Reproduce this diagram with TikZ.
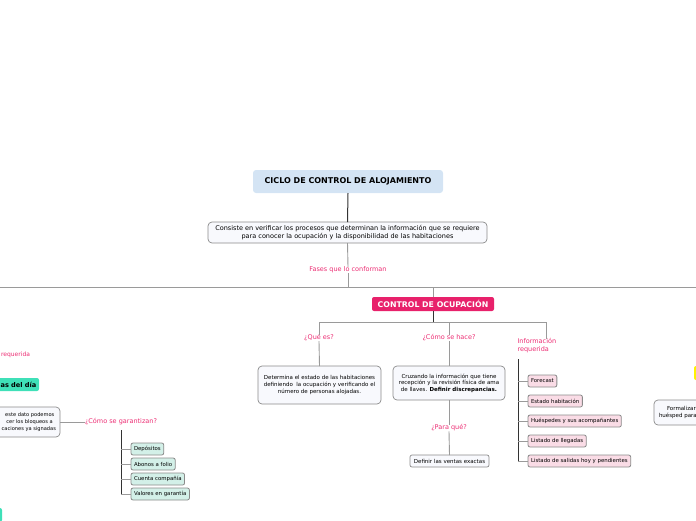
\documentclass[tikz,border=0pt]{standalone}
\usepackage{fontspec}
\setmainfont{DejaVu Sans}
\begin{document}
\definecolor{pinktxt}{HTML}{EC2D73}
\definecolor{pinkbox}{HTML}{E8216B}
\definecolor{titlefill}{HTML}{D4E4F4}
\definecolor{descfill}{HTML}{F8F9FD}
\definecolor{subpink}{HTML}{FADCE6}
\definecolor{subgreen}{HTML}{D3F0E8}
\definecolor{teal}{HTML}{3FE0B8}
\definecolor{linegray}{HTML}{9A9A9A}
\definecolor{bordergray}{HTML}{8A8A8A}
\definecolor{hiyellow}{HTML}{FFF200}
\begin{tikzpicture}[x=1pt,y=-1pt,
  every node/.style={inner sep=0pt, outer sep=0pt},
  descbox/.style={draw=bordergray, line width=0.7pt, fill=descfill, rounded corners=4pt, align=center, font=\fontsize{5.5pt}{6.6pt}\selectfont},
  subbox/.style={draw=bordergray, line width=0.8pt, rounded corners=2pt, anchor=west, minimum height=12pt, inner xsep=3pt, font=\fontsize{5.4pt}{6.4pt}\selectfont},
  pinksub/.style={subbox, fill=subpink},
  greensub/.style={subbox, fill=subgreen},
  qlabel/.style={text=pinktxt, font=\fontsize{6.5pt}{7.8pt}\selectfont},
  conn/.style={draw=linegray, line width=0.9pt},
  darkconn/.style={draw=black!80, line width=1pt}
]
\useasboundingbox (0,0) rectangle (696,520);

% title and description
\node[fill=titlefill, rounded corners=3pt, minimum width=190pt, minimum height=23pt, font=\bfseries\fontsize{8pt}{9.6pt}\selectfont] (title) at (348,181.5) {CICLO DE CONTROL DE ALOJAMIENTO};
\node[descbox, minimum width=279pt, minimum height=21pt, font=\fontsize{6.5pt}{8pt}\selectfont] (desc) at (347.5,232.5) {Consiste en verificar los procesos que determinan la información que se requiere\\para conocer la ocupación y la disponibilidad de las habitaciones};
\node[qlabel] (fases) at (348,270) {Fases que lo conforman};
\coordinate (hl) at (0,287);
\coordinate (hr) at (696,287);
\coordinate (hj) at (348,287);
\coordinate (hc) at (433,287);

\draw[darkconn] (title.south) -- (desc.north);
\draw[conn] (desc.south) -- (fases.north);
\draw[conn] (fases.south) -- (hj);
\draw[conn] (hl) -- (hr);

% control de ocupacion
\node[fill=pinkbox, rounded corners=2pt, minimum width=122pt, minimum height=14pt, text=white, font=\bfseries\fontsize{7.8pt}{9pt}\selectfont] (ctrl) at (433,304) {CONTROL DE OCUPACIÓN};
\draw[conn] (hc) -- (ctrl.north);
\coordinate (cj) at (433,322);
\coordinate (cl) at (319,322);
\coordinate (cm) at (449,322);
\coordinate (cr) at (546,322);
\draw[darkconn] (ctrl.south) -- (cj);
\draw[conn] (cl) -- (cr);

\node[qlabel] (que) at (319,338) {¿Qué es?};
\node[qlabel] (como) at (449,338) {¿Cómo se hace?};
\node[qlabel, anchor=north west, align=left] (info) at (517.5,338.5) {Información\\requerida};
\draw[conn] (cl) -- (que.north);
\draw[conn] (cm) -- (como.north);
\draw[conn] (cr) -- (cr |- info.north);

\node[descbox, minimum width=123pt, minimum height=38pt] (determina) at (319.5,385) {Determina el estado de las habitaciones\\definiendo\ \ la ocupación y verificando el\\número de personas alojadas.};
\draw[conn] (que.south) -- (determina.north);

\node[descbox, minimum width=112pt, minimum height=34pt] (cruzando) at (449,383) {Cruzando la información que tiene\\recepción y la revisión física de ama\\de llaves. \textbf{Definir discrepancias.}};
\draw[conn] (como.south) -- (cruzando.north);
\node[qlabel] (para) at (449,428) {¿Para qué?};
\draw[conn] (cruzando.south) -- (para.north);
\node[descbox, rounded corners=2pt, minimum width=79pt, minimum height=12pt] (ventas) at (449.5,461) {Definir las ventas exactas};
\draw[conn] (para.south) -- (ventas.north);

% informacion requerida list
\coordinate (iv) at (518,359);
\coordinate (ie) at (518,461);
\draw[darkconn] (iv) -- (ie);
\node[pinksub] (forecast) at (528,381) {Forecast};
\node[pinksub] (estado) at (528,401) {Estado habitación};
\node[pinksub] (huesp) at (528,421) {Huéspedes y sus acompañantes};
\node[pinksub] (llegadas) at (528,441) {Listado de llegadas};
\node[pinksub] (salidas) at (528,461) {Listado de salidas hoy y pendientes};
\foreach \n in {forecast,estado,huesp,llegadas,salidas}{
  \draw[conn] (iv |- \n.west) -- (\n.west);
}

% right side, partially visible
\node[fill=hiyellow, rounded corners=2pt, minimum width=30pt, minimum height=14pt] (yel) at (709,373) {};
\node[descbox, minimum width=110pt, minimum height=25pt] (formal) at (709,412.5) {};
\node[anchor=west, align=left, font=\fontsize{5.5pt}{6.6pt}\selectfont] (formaltxt) at (659,412.5) {\hspace*{8pt}Formalizar\\huésped para};

% left side, partially visible
\node[text=pinktxt, anchor=east, font=\fontsize{6pt}{7.2pt}\selectfont] (req) at (30,355) {requerida};
\node[fill=teal, rounded corners=2pt, anchor=east, minimum height=13pt, minimum width=41pt, inner xsep=2pt, font=\bfseries\fontsize{6.6pt}{8pt}\selectfont] (dia) at (39,384.5) {as del día};
\node[descbox, minimum width=100pt, minimum height=30pt] (lb) at (10,422) {};
\node[anchor=east, align=right, font=\fontsize{5.1pt}{6.6pt}\selectfont] (lbt) at (56,422) {este dato podemos\ \ \\cer los bloqueos a\ \ \ \ \\caciones ya signadas};
\node[qlabel] (garant) at (121,422) {¿Cómo se garantizan?};
\draw[conn] (lb.east) -- (garant.west);
\coordinate (gv) at (121,430);
\coordinate (ge) at (121,494);
\draw[darkconn] (gv) -- (ge);
\node[greensub] (depos) at (131,449) {Depósitos};
\node[greensub] (abonos) at (131,464) {Abonos a folio};
\node[greensub] (cuenta) at (131,479) {Cuenta compañía};
\node[greensub] (valores) at (131,494) {Valores en garantía};
\foreach \n in {depos,abonos,cuenta,valores}{
  \draw[conn] (gv |- \n.west) -- (\n.west);
}
\node[fill=teal, rounded corners=2pt, minimum width=24pt, minimum height=14pt] (bl) at (-10,515) {};
\end{tikzpicture}
\end{document}
